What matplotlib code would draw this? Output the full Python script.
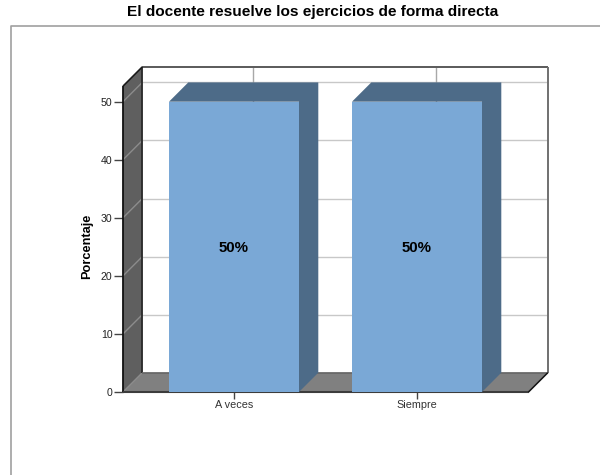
import matplotlib
matplotlib.use("Agg")
import matplotlib.pyplot as plt
from matplotlib.lines import Line2D
from matplotlib.patches import Polygon

plt.rcParams["font.family"] = ["Liberation Sans", "DejaVu Sans"]

categories = ["A veces", "Siempre"]
percentages = [50, 50]
value_labels = ["50%", "50%"]
y_ticks = [0, 10, 20, 30, 40, 50]
title = "El docente resuelve los ejercicios de forma directa"
y_label = "Porcentaje"

W, H = 600, 475
fig = plt.figure(figsize=(W / 100, H / 100), dpi=100, facecolor="white")

# Front plane of the 3D box, in pixels from the top-left corner
left, right, base, unit_px = 123.0, 528.5, 392.0, 5.806
cat_px = 183.0
first_cat_px = 234.0
ymax = 56.0
top = base - ymax * unit_px
ax = fig.add_axes([left / W, 1 - base / H, (right - left) / W, (base - top) / H])
ax.set_xlim((left - first_cat_px) / cat_px, (right - first_cat_px) / cat_px)
ax.set_ylim(0, ymax)
ax.patch.set_visible(False)
for s in ax.spines.values():
    s.set_visible(False)

dx = 19.3 / cat_px      # box depth along x, data units
dy = 19.3 / unit_px     # box depth along y, data units
bar_w = 130.0 / cat_px
x0, x1 = ax.get_xlim()

WALL = "#5f5f5f"
FLOOR = "#808080"
FRONT = "#7aa8d6"
DARK = "#4d6b88"
GRID = "#c8c8c8"

def poly(pts, fc, ec="none", lw=0.0, z=1):
    ax.add_patch(Polygon(pts, closed=True, facecolor=fc, edgecolor=ec, linewidth=lw,
                         zorder=z, clip_on=False))

def line(xs, ys, color, lw=1.0, z=2):
    ax.add_line(Line2D(xs, ys, color=color, linewidth=lw, zorder=z, clip_on=False,
                       solid_capstyle="butt"))

# Side wall and floor
poly([(x0, 0), (x0 + dx, dy), (x0 + dx, ymax), (x0, ymax - dy)], WALL, z=1)
poly([(x0, 0), (x1, 0), (x1 + dx, dy), (x0 + dx, dy)], FLOOR, z=1)

# Gridlines across the back plane and down the side wall
for t in y_ticks[1:]:
    line([x0 + dx, x1 + dx], [t + dy, t + dy], GRID, 1.0, 2)
    line([x0, x0 + dx], [t, t + dy], "#8c8c8c", 1.0, 2)
line([x0, x0 + dx], [0, dy], "#8c8c8c", 1.0, 2)

# Vertical rules on the back plane at each category
for i in range(len(categories)):
    line([i + dx, i + dx], [dy, ymax], "#a8a8a8", 1.0, 2)

# Box edges
line([x0 + dx, x1 + dx], [ymax, ymax], "#5a5a5a", 1.4, 3)
line([x1 + dx, x1 + dx], [dy, ymax], "#707070", 1.4, 3)
line([x0 + dx, x0 + dx], [dy, ymax], "#2a2a2a", 1.3, 3)
line([x0 + dx, x1 + dx], [dy, dy], "#666666", 1.2, 3)
line([x0, x0 + dx], [ymax - dy, ymax], "#1a1a1a", 1.2, 3)
line([x0, x0], [0, ymax - dy], "#111111", 1.3, 3)
line([x0, x1], [0, 0], "#3c3c3c", 1.5, 3)
line([x1, x1 + dx], [0, dy], "#111111", 1.1, 3)

# Bars: top and right side as one shape, then the front face
for i, v in enumerate(percentages):
    a, b = i - bar_w / 2, i + bar_w / 2
    poly([(a, v), (a + dx, v + dy), (b + dx, v + dy), (b + dx, dy), (b, 0), (b, v)], DARK, z=4)
    poly([(a, 0), (b, 0), (b, v), (a, v)], FRONT, z=5)
    ax.text(i, v / 2 - 0.2, value_labels[i], ha="center", va="center", fontsize=10.8,
            fontweight="bold", color="black", zorder=6)

# Axis ticks and labels
ax.set_xticks(range(len(categories)), categories)
ax.set_yticks(y_ticks)
ax.tick_params(axis="x", length=5, width=1, color="#444444", labelsize=7.8,
               labelcolor="#333333", pad=1)
ax.tick_params(axis="y", length=6.5, width=1, color="#444444", labelsize=7.6,
               labelcolor="#222222", pad=1)
for tick in ax.xaxis.get_major_ticks():
    tick.tick1line.set_zorder(7)

fig.text(87 / W, 1 - 246 / H, y_label, rotation=90, ha="center", va="center",
         fontsize=9.2, fontweight="bold", color="black")
fig.text(312.5 / W, 1 - 12 / H, title, ha="center", va="center",
         fontsize=11.1, fontweight="bold", color="black")

# Chart frame, open on the right and at the bottom
fig.add_artist(Line2D([11 / W, 11 / W, 1], [0, 1 - 26 / H, 1 - 26 / H],
                      color="#a0a0a0", linewidth=1.2))

fig.savefig("out.png", dpi=100)
